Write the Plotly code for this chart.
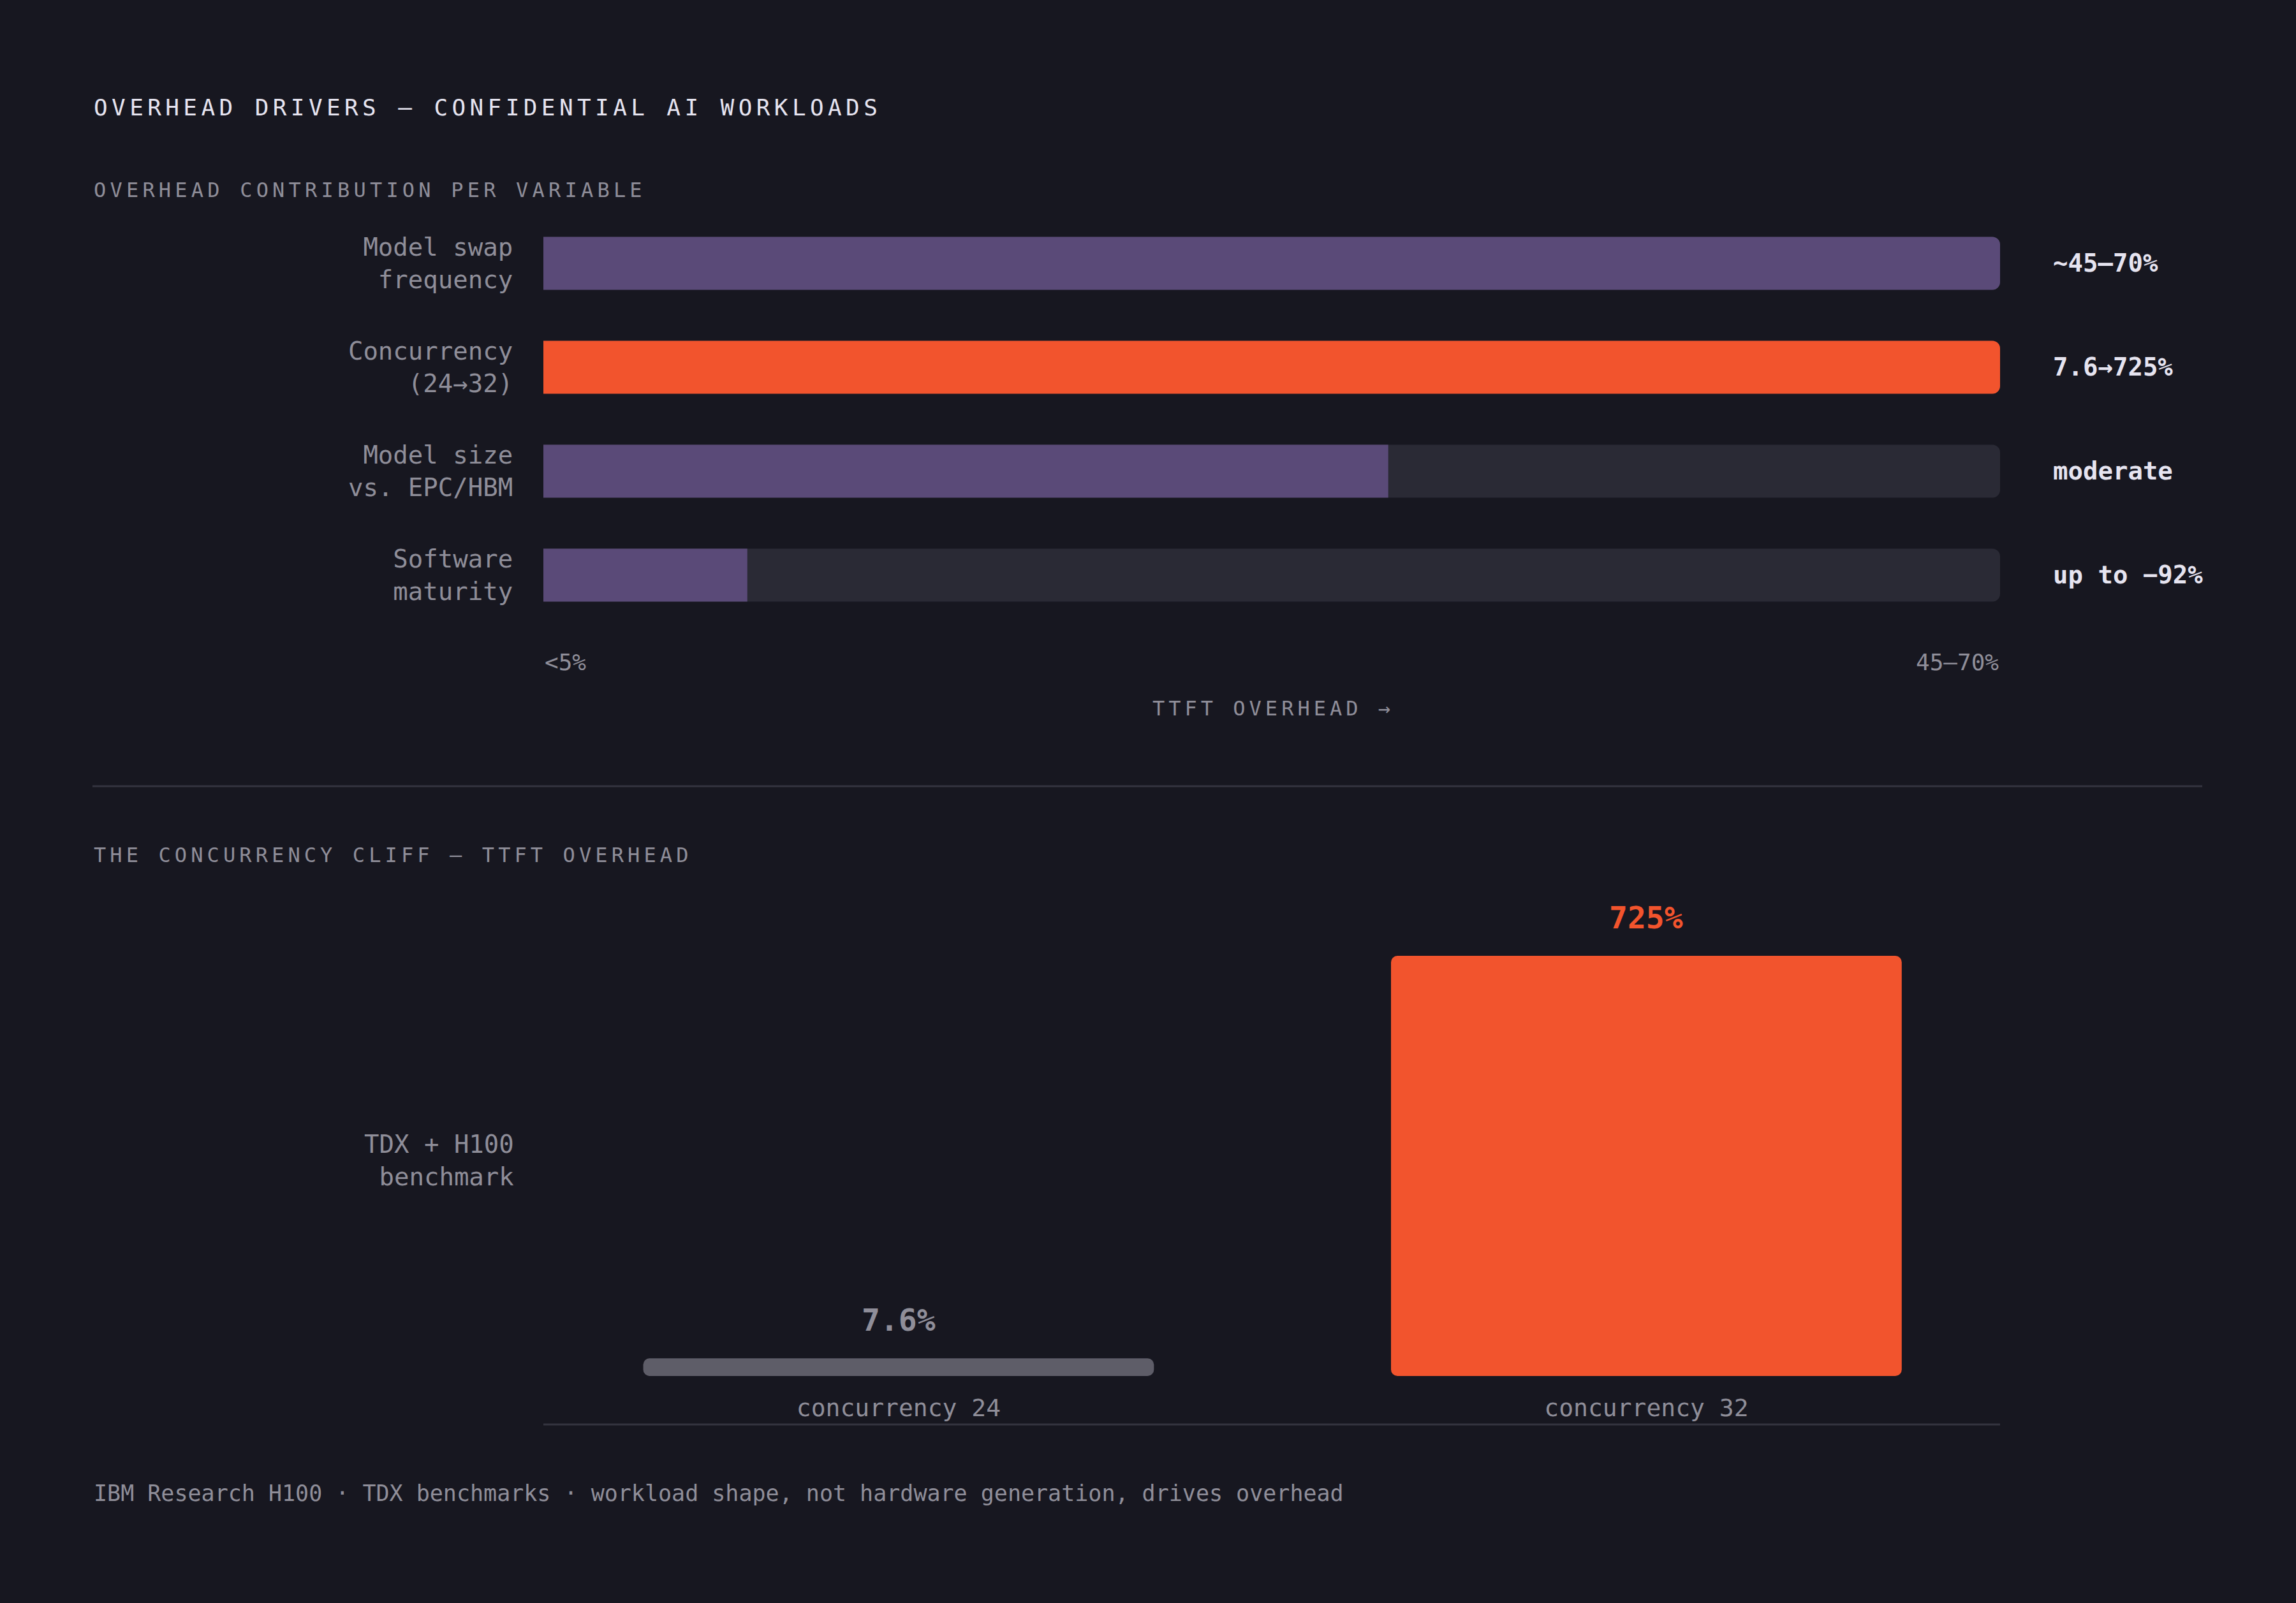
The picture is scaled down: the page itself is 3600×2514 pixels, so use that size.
import plotly.graph_objects as go

# ---------------- data ----------------
TITLE = "OVERHEAD DRIVERS — CONFIDENTIAL AI WORKLOADS"
SUB1 = "OVERHEAD CONTRIBUTION PER VARIABLE"
SUB2 = "THE CONCURRENCY CLIFF — TTFT OVERHEAD"
FOOTER = "IBM Research H100 · TDX benchmarks · workload shape, not hardware generation, drives overhead"

driver_labels = ["Model swap<br>frequency", "Concurrency<br>(24→32)", "Model size<br>vs. EPC/HBM", "Software<br>maturity"]
driver_scores = [100, 100, 58, 14]
driver_values = ["~45–70%", "7.6→725%", "moderate", "up to −92%"]
driver_highlight = [False, True, False, False]
scale_labels = ["<5%", "45–70%"]
scale_title = "TTFT OVERHEAD →"

cliff_labels = ["concurrency 24", "concurrency 32"]
cliff_values = [7.6, 725]
cliff_text = ["7.6%", "725%"]
cliff_side_label = "TDX + H100<br>benchmark"

# ---------------- style ----------------
W, H = 3600, 2514
BG = "#171720"
PURPLE = "#5a4a78"
ORANGE = "#f2542d"
TRACK = "#2a2a35"
GREYBAR = "#5e5d68"
MUTED = "#8f8e99"
BRIGHT = "#e6e4f0"
LINE = "#34343f"
FONT = "DejaVu Sans Mono"
STUB = 24  # minimum visible stub below the baseline of the cliff bars (data units)

def px_x(p):
    return p / W

def px_y(p):
    return 1 - p / H

X0, X1 = px_x(852), px_x(3136)

fig = go.Figure()

# --- top: horizontal drivers ---
fig.add_trace(go.Bar(
    x=[100] * len(driver_labels), y=driver_labels, orientation="h",
    marker=dict(color=TRACK, cornerradius=12, line=dict(width=0)), xaxis="x", yaxis="y",
    hoverinfo="skip", showlegend=False,
))
fig.add_trace(go.Bar(
    x=driver_scores, y=driver_labels, orientation="h",
    marker=dict(color=[ORANGE if h else PURPLE for h in driver_highlight], cornerradius=12,
                line=dict(width=0)),
    xaxis="x", yaxis="y", showlegend=False,
))

# --- bottom: concurrency cliff ---
fig.add_trace(go.Bar(
    x=cliff_labels, y=[v + STUB for v in cliff_values], base=[-STUB] * len(cliff_values),
    marker=dict(color=[GREYBAR, ORANGE], cornerradius=10, line=dict(width=0)),
    width=0.683, xaxis="x2", yaxis="y2", showlegend=False,
))

annotations = []
for lab, val in zip(driver_labels, driver_values):
    annotations.append(dict(
        x=px_x(3217), xref="paper", y=lab, yref="y", text=val, showarrow=False,
        xanchor="left", yanchor="middle",
        font=dict(family=FONT, size=39, color=BRIGHT, weight="bold"),
    ))
annotations.append(dict(x=0, xref="x", y=px_y(1038), yref="paper", text=scale_labels[0],
                        showarrow=False, xanchor="left", yanchor="middle",
                        font=dict(family=FONT, size=36, color=MUTED)))
annotations.append(dict(x=100, xref="x", y=px_y(1038), yref="paper", text=scale_labels[1],
                        showarrow=False, xanchor="right", yanchor="middle",
                        font=dict(family=FONT, size=36, color=MUTED)))
annotations.append(dict(x=0.5, xref="x domain", y=px_y(1111), yref="paper", text=scale_title,
                        showarrow=False, xanchor="center", yanchor="middle",
                        font=dict(family=FONT, size=32, color=MUTED)))
for lab, v, t, c in zip(cliff_labels, cliff_values, cliff_text, [MUTED, ORANGE]):
    annotations.append(dict(x=lab, xref="x2", y=v, yref="y2", text=t, showarrow=False,
                            xanchor="center", yanchor="bottom", yshift=30,
                            font=dict(family=FONT, size=48, color=c, weight="bold")))
annotations.append(dict(x=px_x(808), xref="paper", y=px_y(1820), yref="paper", text=cliff_side_label,
                        showarrow=False, xanchor="right", yanchor="middle", align="right",
                        font=dict(family=FONT, size=39, color=MUTED)))
annotations.append(dict(x=px_x(145), xref="paper", y=px_y(168), yref="paper", text=TITLE,
                        showarrow=False, xanchor="left", yanchor="middle",
                        font=dict(family=FONT, size=36, color=BRIGHT)))
annotations.append(dict(x=px_x(145), xref="paper", y=px_y(298), yref="paper", text=SUB1,
                        showarrow=False, xanchor="left", yanchor="middle",
                        font=dict(family=FONT, size=32, color=MUTED)))
annotations.append(dict(x=px_x(145), xref="paper", y=px_y(1341), yref="paper", text=SUB2,
                        showarrow=False, xanchor="left", yanchor="middle",
                        font=dict(family=FONT, size=32, color=MUTED)))
annotations.append(dict(x=px_x(145), xref="paper", y=px_y(2342), yref="paper", text=FOOTER,
                        showarrow=False, xanchor="left", yanchor="middle",
                        font=dict(family=FONT, size=35, color=MUTED)))

shapes = [
    dict(type="line", xref="paper", yref="paper", x0=px_x(145), x1=px_x(3453),
         y0=px_y(1233), y1=px_y(1233), line=dict(color=LINE, width=3)),
    dict(type="line", xref="x2 domain", yref="paper", x0=0, x1=1,
         y0=px_y(2234), y1=px_y(2234), line=dict(color=LINE, width=3)),
]

fig.update_layout(
    width=W, height=H, margin=dict(l=0, r=0, t=0, b=0),
    paper_bgcolor=BG, plot_bgcolor=BG,
    barmode="overlay", bargap=0.49, showlegend=False,
    font=dict(family=FONT, color=MUTED),
    xaxis=dict(domain=[X0, X1], range=[0, 100], showgrid=False, zeroline=False,
               showticklabels=False, fixedrange=True),
    yaxis=dict(domain=[px_y(983.5), px_y(331.5)], autorange="reversed",
               showgrid=False, zeroline=False, ticks="outside", ticklen=39,
               tickcolor="rgba(0,0,0,0)", anchor="x",
               tickfont=dict(family=FONT, size=39, color=MUTED)),
    xaxis2=dict(domain=[X0, X1], anchor="y2", range=[-0.475, 1.473], showgrid=False,
                zeroline=False, ticks="outside", ticklen=16, tickcolor="rgba(0,0,0,0)",
                tickfont=dict(family=FONT, size=38, color=MUTED)),
    yaxis2=dict(domain=[px_y(2158), px_y(1499)], range=[-STUB, 725], anchor="x2",
                showgrid=False, zeroline=False, showticklabels=False),
    annotations=annotations, shapes=shapes,
)

# letter spacing for the small-caps headings (anchor: 'left' keeps left edge, 'center' keeps centre)
spacing = [(TITLE, 6.4, "left"), (SUB1, 6.2, "left"), (SUB2, 6.1, "left"), (scale_title, 6.0, "center")]
sp_js = ",".join('"%s": [%s, "%s"]' % (t, s, a) for t, s, a in spacing)

post = """
document.body.style.margin='0';
document.body.style.background='%s';
var SP = {%s};
function applySpacing(){
  document.querySelectorAll('text.annotation-text').forEach(function(t){
    var v = SP[t.textContent];
    if (!v || t.getAttribute('data-sp') === '1') { return; }
    var b0 = t.getBBox();
    t.style.letterSpacing = v[0] + 'px';
    var b1 = t.getBBox();
    var x = parseFloat(t.getAttribute('x') || '0');
    var dx = (v[1] === 'left') ? (b0.x - b1.x) : ((b0.x + b0.width / 2) - (b1.x + (b1.width - v[0]) / 2));
    t.setAttribute('x', x + dx);
    t.setAttribute('data-sp', '1');
  });
}
applySpacing();
var gd = document.getElementById('{plot_id}');
if (gd && gd.on) { gd.on('plotly_afterplot', applySpacing); }
setTimeout(applySpacing, 100);
""" % (BG, sp_js)

fig.write_html("out.html", post_script=post, config={"displayModeBar": False})
